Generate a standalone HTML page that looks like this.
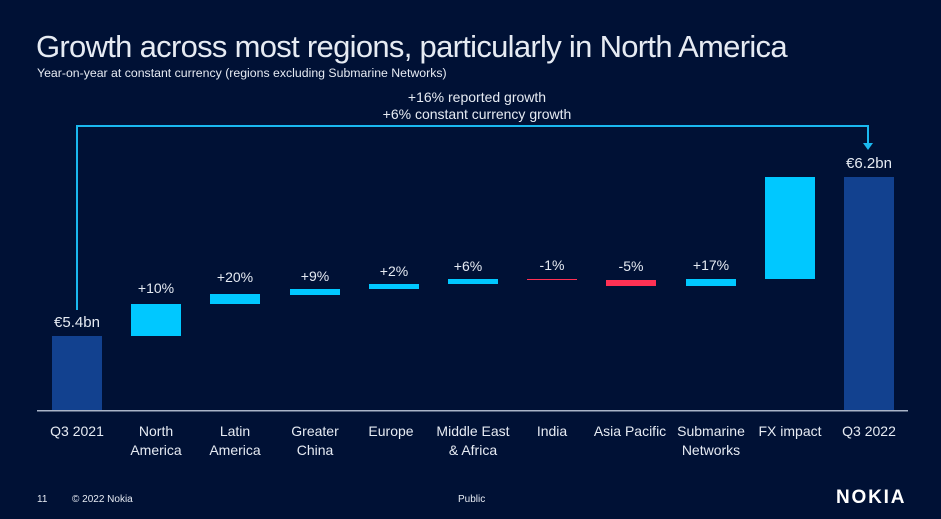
<!DOCTYPE html><html><head><style>
body{margin:0;width:941px;height:519px;background:#001135;overflow:hidden;font-family:"Liberation Sans",sans-serif;color:#e6ebf3;position:relative}
.a{position:absolute;white-space:nowrap}
.c{text-align:center;transform:translateX(-50%)}
.b{position:absolute}
.l{font-size:14px;line-height:19px}
</style></head><body>
<div class="a" style="left:36px;top:29px;font-size:31px;letter-spacing:-0.7px">Growth across most regions, particularly in North America</div>
<div class="a" style="left:37px;top:66px;font-size:12.3px">Year-on-year at constant currency (regions excluding Submarine Networks)</div>
<div class="a c l" style="left:477px;top:89px;line-height:17px">+16% reported growth<br>+6% constant currency growth</div>
<svg class="b" style="left:0;top:0" width="941" height="519">
<polyline points="77,310 77,126 868,126 868,144" fill="none" stroke="#1ab8ef" stroke-width="2"/>
<polygon points="863,143 873,143 868,150" fill="#1ab8ef"/>
<rect x="52" y="336" width="50" height="74" fill="#12418f"/>
<rect x="131" y="304" width="50" height="32" fill="#00c8ff"/>
<rect x="210" y="294" width="50" height="10" fill="#00c8ff"/>
<rect x="290" y="289" width="50" height="6" fill="#00c8ff"/>
<rect x="369" y="284" width="50" height="5" fill="#00c8ff"/>
<rect x="448" y="279" width="50" height="5" fill="#00c8ff"/>
<rect x="527" y="279" width="50" height="1" fill="#ff3154"/>
<rect x="606" y="280" width="50" height="6" fill="#ff3154"/>
<rect x="686" y="279" width="50" height="7" fill="#00c8ff"/>
<rect x="765" y="177" width="50" height="102" fill="#00c8ff"/>
<rect x="844" y="177" width="50" height="233" fill="#12418f"/>
<rect x="37" y="410" width="871" height="1.5" fill="#a9b4c8"/>
</svg>
<div class="a c l" style="left:77px;top:313px;font-size:15px">€5.4bn</div>
<div class="a c l" style="left:156px;top:279px">+10%</div>
<div class="a c l" style="left:235px;top:268px">+20%</div>
<div class="a c l" style="left:315px;top:267px">+9%</div>
<div class="a c l" style="left:394px;top:262px">+2%</div>
<div class="a c l" style="left:468px;top:257px">+6%</div>
<div class="a c l" style="left:552px;top:256px">-1%</div>
<div class="a c l" style="left:631px;top:257px">-5%</div>
<div class="a c l" style="left:711px;top:256px">+17%</div>
<div class="a c l" style="left:869px;top:154px;font-size:15px">€6.2bn</div>
<div class="a c l" style="left:77px;top:422px">Q3 2021</div>
<div class="a c l" style="left:156px;top:422px">North<br>America</div>
<div class="a c l" style="left:235px;top:422px">Latin<br>America</div>
<div class="a c l" style="left:315px;top:422px">Greater<br>China</div>
<div class="a c l" style="left:391px;top:422px">Europe</div>
<div class="a c l" style="left:473px;top:422px">Middle East<br>&amp; Africa</div>
<div class="a c l" style="left:552px;top:422px">India</div>
<div class="a c l" style="left:630px;top:422px">Asia Pacific</div>
<div class="a c l" style="left:711px;top:422px">Submarine<br>Networks</div>
<div class="a c l" style="left:790px;top:422px">FX impact</div>
<div class="a c l" style="left:869px;top:422px">Q3 2022</div>
<div class="a" style="left:37px;top:494px;font-size:10px">11</div>
<div class="a" style="left:72px;top:494px;font-size:10px">© 2022 Nokia</div>
<div class="a" style="left:458px;top:494px;font-size:10px">Public</div>
<div class="a" style="left:836px;top:487px;font-size:19px;font-weight:bold;color:#fff;letter-spacing:1.8px">NOKIA</div>
</body></html>
